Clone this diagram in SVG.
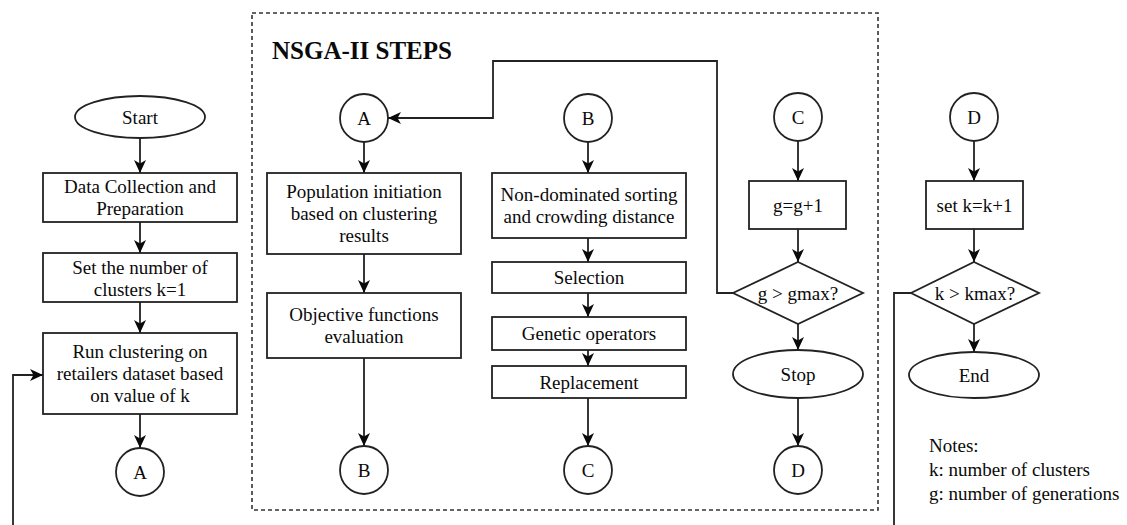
<svg xmlns="http://www.w3.org/2000/svg" width="1127" height="525" viewBox="0 0 1127 525">
  <style>
    .shape { fill: #ffffff; stroke: #222222; stroke-width: 1.8; }
    .edge { fill: none; stroke: #222222; stroke-width: 1.8; }
    .frame { fill: none; stroke: #333333; stroke-width: 1.6; stroke-dasharray: 4 3; }
    text { font-family: "Liberation Serif", "Times New Roman", serif; font-size: 19px; fill: #0a0a0a; }
    .c { text-anchor: middle; }
    .title { font-size: 25px; font-weight: bold; }
  </style>
  <defs>
    <marker id="arrow" viewBox="0 0 13 13" refX="13" refY="6.5" markerWidth="13" markerHeight="13" markerUnits="userSpaceOnUse" orient="auto">
      <path d="M0,0.5 L13,6.5 L0,12.5 L3.5,6.5 z" fill="#0a0a0a"/>
    </marker>
  </defs>

  <rect width="1127" height="525" fill="#ffffff"/>

  <!-- NSGA-II frame -->
  <g id="nsga-frame">
    <rect class="frame" x="252" y="13" width="626" height="497"/>
    <text class="title" x="272" y="59">NSGA-II STEPS</text>
  </g>

  <!-- connectors -->
  <g id="connectors">
    <line class="edge" x1="140" y1="138" x2="140" y2="173" marker-end="url(#arrow)"/>
    <line class="edge" x1="140" y1="222" x2="140" y2="253" marker-end="url(#arrow)"/>
    <line class="edge" x1="140" y1="302" x2="140" y2="333" marker-end="url(#arrow)"/>
    <line class="edge" x1="140" y1="414" x2="140" y2="448" marker-end="url(#arrow)"/>
    <polyline class="edge" points="13,525 13,375 43,375" marker-end="url(#arrow)"/>

    <line class="edge" x1="364" y1="142" x2="364" y2="173" marker-end="url(#arrow)"/>
    <line class="edge" x1="364" y1="254" x2="364" y2="293" marker-end="url(#arrow)"/>
    <line class="edge" x1="364" y1="358" x2="364" y2="446" marker-end="url(#arrow)"/>

    <line class="edge" x1="588" y1="142" x2="588" y2="173" marker-end="url(#arrow)"/>
    <line class="edge" x1="588" y1="238" x2="588" y2="262" marker-end="url(#arrow)"/>
    <line class="edge" x1="588" y1="293" x2="588" y2="317" marker-end="url(#arrow)"/>
    <line class="edge" x1="588" y1="350" x2="588" y2="366" marker-end="url(#arrow)"/>
    <line class="edge" x1="588" y1="398" x2="588" y2="446" marker-end="url(#arrow)"/>

    <line class="edge" x1="798" y1="141" x2="798" y2="181" marker-end="url(#arrow)"/>
    <line class="edge" x1="798" y1="229" x2="798" y2="262" marker-end="url(#arrow)"/>
    <line class="edge" x1="798" y1="324" x2="798" y2="350" marker-end="url(#arrow)"/>
    <line class="edge" x1="798" y1="398" x2="798" y2="446" marker-end="url(#arrow)"/>
    <polyline class="edge" points="733,293 717,293 717,61 493,61 493,118 388,118" marker-end="url(#arrow)"/>

    <line class="edge" x1="974" y1="141" x2="974" y2="181" marker-end="url(#arrow)"/>
    <line class="edge" x1="974" y1="229" x2="974" y2="262" marker-end="url(#arrow)"/>
    <line class="edge" x1="974" y1="324" x2="974" y2="352" marker-end="url(#arrow)"/>
    <polyline class="edge" points="911,293 894,293 894,525"/>
  </g>

  <!-- main clustering column -->
  <g id="start">
    <ellipse class="shape" cx="140" cy="117" rx="65" ry="21"/>
    <text class="c" x="140" y="123.5">Start</text>
  </g>
  <g id="data-collection">
    <rect class="shape" x="43" y="173" width="194" height="49"/>
    <text class="c" x="140" y="192.5">Data Collection and</text>
    <text class="c" x="140" y="214.5">Preparation</text>
  </g>
  <g id="set-k">
    <rect class="shape" x="43" y="253" width="194" height="49"/>
    <text class="c" x="140" y="273.5">Set the number of</text>
    <text class="c" x="140" y="295.5">clusters k=1</text>
  </g>
  <g id="run-clustering">
    <rect class="shape" x="43" y="333" width="194" height="81"/>
    <text class="c" x="140" y="358">Run clustering on</text>
    <text class="c" x="140" y="380">retailers dataset based</text>
    <text class="c" x="140" y="402">on value of k</text>
  </g>
  <g id="to-a">
    <circle class="shape" cx="140" cy="472" r="24"/>
    <text class="c" x="140" y="478.5">A</text>
  </g>

  <!-- NSGA-II column A -->
  <g id="from-a">
    <circle class="shape" cx="364" cy="118" r="24"/>
    <text class="c" x="364" y="124.5">A</text>
  </g>
  <g id="population">
    <rect class="shape" x="267" y="173" width="194" height="81"/>
    <text class="c" x="364" y="198">Population initiation</text>
    <text class="c" x="364" y="220">based on clustering</text>
    <text class="c" x="364" y="242">results</text>
  </g>
  <g id="objective">
    <rect class="shape" x="267" y="293" width="194" height="65"/>
    <text class="c" x="364" y="321">Objective functions</text>
    <text class="c" x="364" y="343">evaluation</text>
  </g>
  <g id="to-b">
    <circle class="shape" cx="364" cy="470" r="24"/>
    <text class="c" x="364" y="476.5">B</text>
  </g>

  <!-- NSGA-II column B -->
  <g id="from-b">
    <circle class="shape" cx="588" cy="118" r="24"/>
    <text class="c" x="588" y="124.5">B</text>
  </g>
  <g id="sorting">
    <rect class="shape" x="492" y="173" width="194" height="65"/>
    <text class="c" x="589" y="201">Non-dominated sorting</text>
    <text class="c" x="589" y="223">and crowding distance</text>
  </g>
  <g id="selection">
    <rect class="shape" x="492" y="262" width="194" height="31"/>
    <text class="c" x="589" y="284">Selection</text>
  </g>
  <g id="genetic">
    <rect class="shape" x="492" y="317" width="194" height="33"/>
    <text class="c" x="589" y="340">Genetic operators</text>
  </g>
  <g id="replacement">
    <rect class="shape" x="492" y="366" width="194" height="32"/>
    <text class="c" x="589" y="388.5">Replacement</text>
  </g>
  <g id="to-c">
    <circle class="shape" cx="588" cy="470" r="24"/>
    <text class="c" x="588" y="476.5">C</text>
  </g>

  <!-- NSGA-II column C -->
  <g id="from-c">
    <circle class="shape" cx="798" cy="117" r="24"/>
    <text class="c" x="798" y="123.5">C</text>
  </g>
  <g id="g-inc">
    <rect class="shape" x="749" y="181" width="97" height="48"/>
    <text class="c" x="798" y="211.5">g=g+1</text>
  </g>
  <g id="g-check">
    <polygon class="shape" points="798,262 863,293 798,324 733,293"/>
    <text class="c" x="798" y="299.5">g &gt; gmax?</text>
  </g>
  <g id="stop">
    <ellipse class="shape" cx="798" cy="374" rx="65" ry="24"/>
    <text class="c" x="798" y="380.5">Stop</text>
  </g>
  <g id="to-d">
    <circle class="shape" cx="798" cy="470" r="24"/>
    <text class="c" x="798" y="476.5">D</text>
  </g>

  <!-- outer column D -->
  <g id="from-d">
    <circle class="shape" cx="974" cy="117" r="24"/>
    <text class="c" x="974" y="123.5">D</text>
  </g>
  <g id="k-inc">
    <rect class="shape" x="926" y="181" width="97" height="48"/>
    <text class="c" x="974.5" y="211.5">set k=k+1</text>
  </g>
  <g id="k-check">
    <polygon class="shape" points="974,262 1039,293 974,324 911,293"/>
    <text class="c" x="975" y="299.5">k &gt; kmax?</text>
  </g>
  <g id="end">
    <ellipse class="shape" cx="974" cy="375" rx="65" ry="23"/>
    <text class="c" x="974" y="381.5">End</text>
  </g>

  <!-- legend -->
  <g id="notes">
    <text x="929" y="452">Notes:</text>
    <text x="929" y="476">k: number of clusters</text>
    <text x="929" y="500">g: number of generations</text>
  </g>
</svg>
